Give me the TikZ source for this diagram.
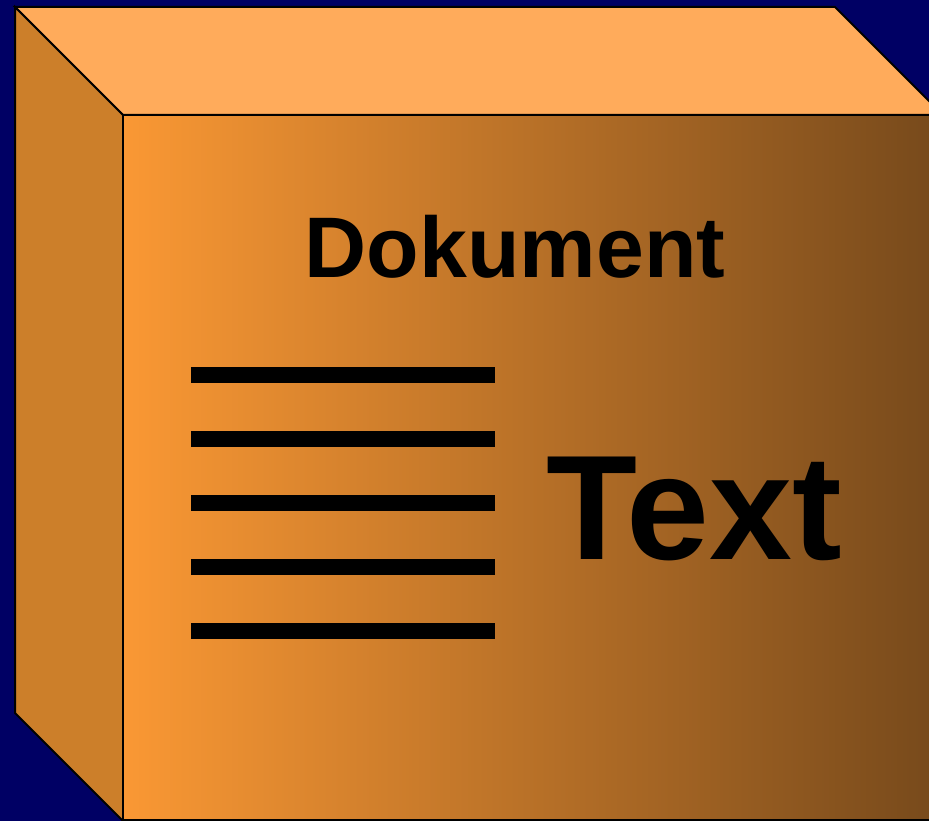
\documentclass[tikz,border=0pt]{standalone}
\usepackage{fontspec}
\setmainfont{Liberation Sans}
\definecolor{nachtblau}{RGB}{0,0,100}
\definecolor{deckel}{RGB}{255,171,91}
\definecolor{flanke}{RGB}{204,127,42}
\definecolor{hell}{RGB}{250,152,52}
\definecolor{dunkel}{RGB}{118,73,27}
\tikzset{
  kante/.style   = {draw=black, line width=2pt, line join=miter},
  vorne/.style   = {kante, left color=hell, right color=dunkel, shading angle=90},
  titel/.style   = {font=\bfseries\fontsize{86}{100}\selectfont, inner sep=0pt, anchor=base},
  gross/.style   = {font=\bfseries\fontsize{149}{170}\selectfont, inner sep=0pt, anchor=base},
  zeile/.style   = {line width=16pt, line cap=butt}
}

\begin{document}
\begin{tikzpicture}[x=1pt, y=-1pt]

  \fill[nachtblau] (0,0) rectangle (929,821);
  \useasboundingbox (0,0) rectangle (929,821);
  \clip (0,0) rectangle (929,821);

  % Quader: Deckel, Flanke, Vorderseite
  \filldraw[kante, fill=deckel] (15,7) -- (835,7) -- (943,115) -- (123,115) -- cycle;
  \filldraw[kante, fill=flanke] (15,7) -- (123,115) -- (123,821) -- (15,713) -- cycle;
  \shade[vorne] (123,115) rectangle (943,820);

  % Beschriftung
  \node[titel] (dokument) at (515,277) {Dokument};
  \node[gross] (text) at (694,559) {Text};

  % Textzeilen
  \foreach \y in {375,439,503,567,631}
    \draw[zeile] (191,\y) -- (495,\y);

\end{tikzpicture}
\end{document}
